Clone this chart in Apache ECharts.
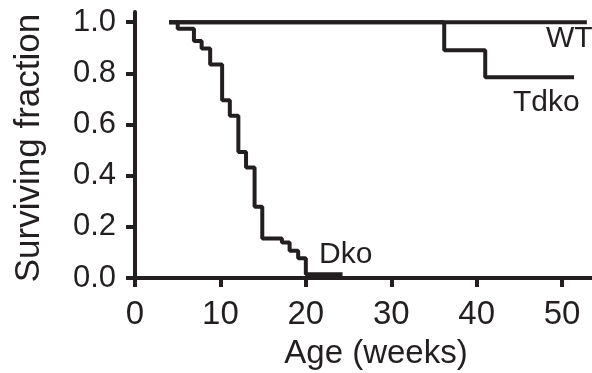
<!DOCTYPE html>
<html>
<head>
<meta charset="utf-8">
<script src="https://cdn.jsdelivr.net/npm/echarts@6.0.0/dist/echarts.min.js"></script>
<style>
  html, body { margin: 0; padding: 0; background: #fff; }
  #chart { width: 592px; height: 373px; }
</style>
</head>
<body>
<div id="chart"></div>
<script>
  // survival curves (weeks, surviving fraction)
  var dkoWeeks = [4, 5.0, 6.9, 7.8, 8.8, 10.2, 11.1, 12.1, 13.0, 14.0, 14.9, 17.2, 18.1, 19.1, 20.0, 24.3];
  var dkoSurv = [1.0, 0.975, 0.927, 0.897, 0.835, 0.695, 0.634, 0.493, 0.432, 0.279, 0.154, 0.139, 0.107, 0.077, 0.015, 0.015];
  var wtWeeks = [4, 52.9];
  var wtSurv = [1.0, 1.0];
  var tdkoWeeks = [4, 36.2, 41.0, 51.4];
  var tdkoSurv = [1.0, 0.89, 0.785, 0.785];
  var xTicks = [0, 10, 20, 30, 40, 50];
  var yTicks = [0, 0.2, 0.4, 0.6, 0.8, 1.0];

  var ink = '#231f20';
  var font = 'Liberation Sans';

  function pairs(xs, ys) {
    return xs.map(function (x, i) { return [x, ys[i]]; });
  }

  function curve(name, xs, ys) {
    return {
      name: name,
      type: 'line',
      step: 'end',
      symbol: 'none',
      lineStyle: { color: ink, width: 4 },
      data: pairs(xs, ys)
    };
  }

  var chart = echarts.init(document.getElementById('chart'));
  chart.setOption({
    animation: false,
    grid: { left: 135, right: 0, top: 12, bottom: 95 },
    xAxis: {
      type: 'value',
      min: 0,
      max: 53.5,
      interval: 10,
      axisLine: { lineStyle: { color: ink, width: 4 } },
      axisTick: { show: true, length: 9, customValues: xTicks, lineStyle: { color: ink, width: 4 } },
      axisLabel: { customValues: xTicks, margin: 20, color: ink, fontFamily: font, fontSize: 33 },
      splitLine: { show: false }
    },
    yAxis: {
      type: 'value',
      min: 0,
      max: 1.04,
      interval: 0.2,
      axisLine: { show: true, lineStyle: { color: ink, width: 4 } },
      axisTick: { show: true, length: 9, customValues: yTicks, lineStyle: { color: ink, width: 4 } },
      axisLabel: {
        customValues: yTicks,
        margin: 19,
        color: ink,
        fontFamily: font,
        fontSize: 31,
        formatter: function (v) { return v.toFixed(1); }
      },
      splitLine: { show: false }
    },
    graphic: [
      {
        type: 'text', x: 376, y: 354,
        style: { text: 'Age (weeks)', fill: ink, font: '33px "Liberation Sans"', align: 'center', verticalAlign: 'middle' }
      },
      {
        type: 'text', x: 29, y: 148, rotation: Math.PI / 2,
        style: { text: 'Surviving fraction', fill: ink, font: '35px "Liberation Sans"', align: 'center', verticalAlign: 'middle' }
      },
      {
        type: 'text', x: 546, y: 39,
        style: { text: 'WT', fill: ink, font: '30px "Liberation Sans"', align: 'left', verticalAlign: 'middle' }
      },
      {
        type: 'text', x: 513, y: 103,
        style: { text: 'Tdko', fill: ink, font: '30px "Liberation Sans"', align: 'left', verticalAlign: 'middle' }
      },
      {
        type: 'text', x: 319, y: 255,
        style: { text: 'Dko', fill: ink, font: '30px "Liberation Sans"', align: 'left', verticalAlign: 'middle' }
      }
    ],
    series: [
      curve('WT', wtWeeks, wtSurv),
      curve('Tdko', tdkoWeeks, tdkoSurv),
      curve('Dko', dkoWeeks, dkoSurv)
    ]
  });
</script>
</body>
</html>
